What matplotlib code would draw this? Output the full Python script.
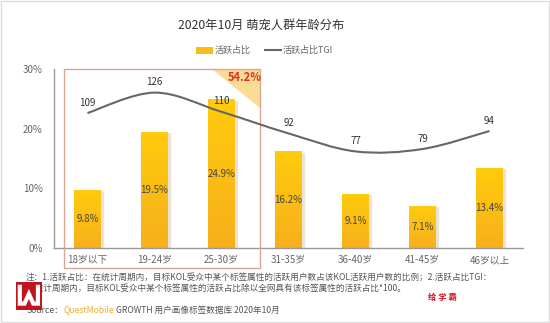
import numpy as np
import matplotlib
matplotlib.use("Agg")
import matplotlib.pyplot as plt
from matplotlib.path import Path
from matplotlib.patches import PathPatch, Rectangle, Polygon
from matplotlib.colors import LinearSegmentedColormap

plt.rcParams["font.family"] = ["Noto Sans CJK SC", "DejaVu Sans"]

# data
categories = ["18岁以下", "19-24岁", "25-30岁", "31-35岁", "36-40岁", "41-45岁", "46岁以上"]
share = [9.8, 19.5, 24.9, 16.2, 9.1, 7.1, 13.4]
tgi = [109, 126, 110, 92, 77, 79, 94]
yticks = [0, 10, 20, 30]
highlight_total = "54.2%"

title = "2020年10月 萌宠人群年龄分布"
note1 = "注：1.活跃占比：在统计周期内，目标KOL受众中某个标签属性的活跃用户数占该KOL活跃用户数的比例；2.活跃占比TGI："
note2 = "在统计周期内，目标KOL受众中某个标签属性的活跃占比除以全网具有该标签属性的活跃占比*100。"

fig = plt.figure(figsize=(5.5, 3.23), dpi=100)
fig.patch.set_facecolor("white")
ax = fig.add_axes([0.0982, 0.2322, 0.8527, 0.5542])
x = np.arange(len(categories))

# gradient bars
grad = LinearSegmentedColormap.from_list("g", ["#F7B01C", "#FFCB0C"])
bars = ax.bar(x, share, width=0.4, color="none", edgecolor="none", zorder=2)
for b in bars:
    x0, w, h = b.get_x(), b.get_width(), b.get_height()
    ax.add_patch(Rectangle((x0 + 0.03, 0), w, h - 0.2, color="#ebe4d6", zorder=1))
    im = ax.imshow(np.linspace(0, 1, 64).reshape(-1, 1), cmap=grad, aspect="auto",
                   origin="lower", extent=(x0, x0 + w, 0, h), zorder=2)
    im.set_clip_path(b)
for xi, v in zip(x, share):
    ax.text(xi, v / 2, f"{v}%", ha="center", va="center", fontsize=7,
            color="#444444", zorder=4)

ax.set_xlim(-0.5, 6.5)
ax.set_ylim(0, 30)
ax.set_yticks(yticks)
ax.set_yticklabels([f"{t}%" for t in yticks], fontsize=7, color="#666666")
ax.set_xticks(x)
ax.set_xticklabels(categories, fontsize=7, color="#666666")
ax.tick_params(length=0, pad=5)
ax.tick_params(axis="y", pad=8)
for s in ["top", "right"]:
    ax.spines[s].set_visible(False)
for s in ["left", "bottom"]:
    ax.spines[s].set_color("#999999")
    ax.spines[s].set_linewidth(1.0)

# highlight box
ax.add_patch(Rectangle((-0.35, -3.3), 2.92, 33.3, fill=False, edgecolor="#D9A694",
                       linewidth=1.0, clip_on=False, zorder=5))
ax.add_patch(Polygon([[1.86, 30], [2.57, 30], [2.57, 23.5]], closed=True,
                     facecolor="#FCDB94", edgecolor="none", zorder=1))
ax.text(2.34, 28.5, highlight_total, color="#E0301E", fontsize=8,
        fontweight="bold", ha="center", va="center", zorder=5)

# TGI smooth line on secondary axis
ax2 = ax.twinx()
ax2.set_ylim(-3.5, 145.7)
ax2.axis("off")
pts = np.column_stack([x, tgi]).astype(float)
ext = np.vstack([pts[0], pts, pts[-1]])
verts = [tuple(pts[0])]
codes = [Path.MOVETO]
for i in range(len(pts) - 1):
    p0, p1, p2, p3 = ext[i], ext[i + 1], ext[i + 2], ext[i + 3]
    c1 = p1 + (p2 - p0) / 6
    c2 = p2 - (p3 - p1) / 6
    verts += [tuple(c1), tuple(c2), tuple(p2)]
    codes += [Path.CURVE4] * 3
ax2.add_patch(PathPatch(Path(verts, codes), facecolor="none", edgecolor="#666666",
                        linewidth=1.5, zorder=3))
for xi, v in zip(x, tgi):
    ax2.annotate(str(v), (xi, v), xytext=(0, 7.5), textcoords="offset points",
                 ha="center", va="center", fontsize=7, color="#333333")

# title and legend
fig.text(0.475, 0.922, title, ha="center", va="center", fontsize=8.8, color="#333333")
fig.patches.append(Rectangle((0.357, 0.834), 0.031, 0.022, transform=fig.transFigure,
                             facecolor="#F7BE1A", edgecolor="none"))
fig.text(0.39, 0.845, "活跃占比", ha="left", va="center", fontsize=6.5, color="#666666")
fig.lines.append(plt.Line2D([0.482, 0.51], [0.845, 0.845], transform=fig.transFigure,
                            color="#666666", linewidth=1.5))
fig.text(0.513, 0.845, "活跃占比TGI", ha="left", va="center", fontsize=6.5,
         color="#666666")

# notes
fig.text(0.047, 0.142, note1, ha="left", va="center", fontsize=6.2, color="#555555")
fig.text(0.048, 0.108, note2, ha="left", va="center", fontsize=6.2, color="#555555")
src = fig.text(0.049, 0.040, "Source：", ha="left", va="center", fontsize=6.2,
               color="#555555")
fig.canvas.draw()
bb = src.get_window_extent()
qm = fig.text(bb.x1 / 550, 0.040, "QuestMobile", ha="left", va="center",
              fontsize=6.2, color="#E8B030")
bb = qm.get_window_extent()
fig.text(bb.x1 / 550 + 0.003, 0.040, "GROWTH 用户画像标签数据库 2020年10月",
         ha="left", va="center", fontsize=6.2, color="#555555")

# logo (drawn as shapes) and tag
fig.patches.append(Rectangle((0.029, 0.040), 0.047, 0.087, transform=fig.transFigure,
                             facecolor="#C0141E", edgecolor="none", zorder=10))
fig.lines.append(plt.Line2D([0.036, 0.036, 0.0445, 0.0525, 0.0605, 0.069, 0.069],
                            [0.112, 0.060, 0.060, 0.090, 0.060, 0.060, 0.112],
                            transform=fig.transFigure, color="white", linewidth=3.0,
                            solid_joinstyle="miter", zorder=11))
fig.text(0.805, 0.078, "给 学 霸", ha="center", va="center", fontsize=6,
         color="#D0101A", fontweight="bold")

# frame
fig.patches.append(Rectangle((0.002, 0.003), 0.996, 0.994, transform=fig.transFigure,
                             fill=False, edgecolor="#dddddd", linewidth=1.0))

fig.savefig("out.png", dpi=100)
